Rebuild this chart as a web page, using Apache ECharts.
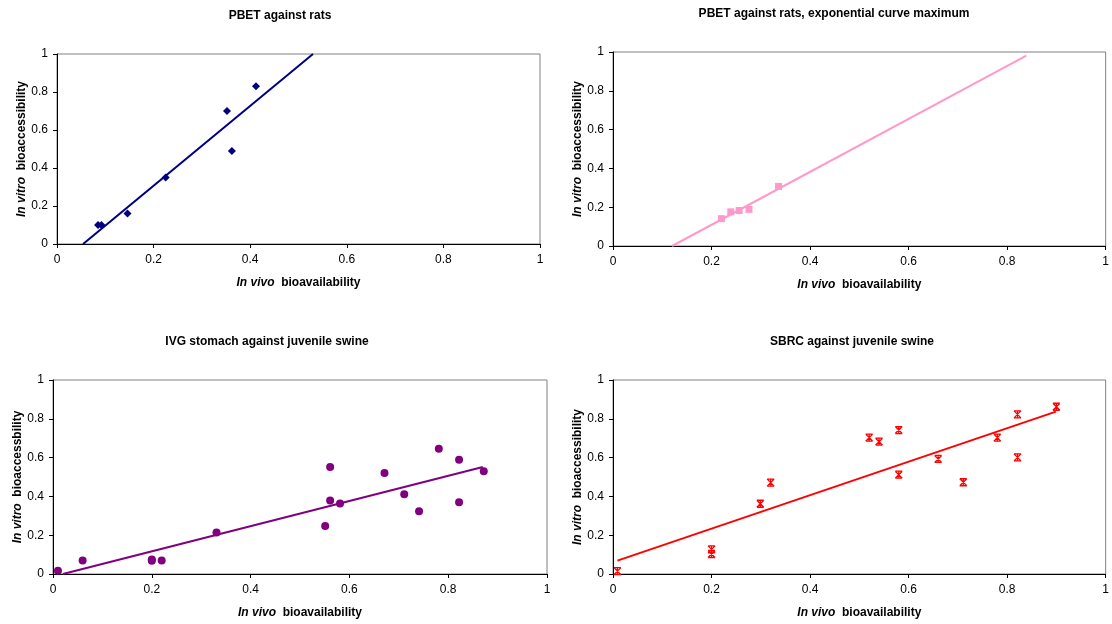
<!DOCTYPE html>
<html><head><meta charset="utf-8">
<script src="https://cdn.jsdelivr.net/npm/echarts@6/dist/echarts.min.js"></script>
<style>html,body{margin:0;padding:0;background:#fff}#c{width:1112px;height:624px}</style>
</head><body><div id="c"></div>
<script>
// Panel titles
const titles = ["PBET against rats", "PBET against rats, exponential curve maximum", "IVG stomach against juvenile swine", "SBRC against juvenile swine"];
const yNames = ["bioaccessibility", "bioaccessibility", "bioaccessbility", "bioaccessibility"];
const xTicks = [0, 0.2, 0.4, 0.6, 0.8, 1];

// Panel 1: PBET against rats
const pbetRats = [[0.085,0.10],[0.092,0.10],[0.146,0.16],[0.225,0.35],[0.352,0.70],[0.362,0.49],[0.412,0.83]];
const pbetRatsTrend = [[0.054,0],[0.53,1]];
// Panel 2: PBET against rats, exponential curve maximum
const pbetExp = [[0.220,0.141],[0.239,0.176],[0.256,0.183],[0.276,0.189],[0.336,0.307]];
const pbetExpTrend = [[0.12,0],[0.839,0.981]];
// Panel 3: IVG stomach against juvenile swine
const ivgSwine = [[0.010,0.017],[0.060,0.069],[0.200,0.075],[0.200,0.068],[0.220,0.069],[0.331,0.214],
  [0.551,0.248],[0.561,0.552],[0.561,0.379],[0.581,0.363],[0.671,0.520],[0.711,0.411],[0.741,0.324],
  [0.781,0.645],[0.822,0.589],[0.822,0.370],[0.872,0.530]];
const ivgSwineTrend = [[0.02,0],[0.87,0.552]];
// Panel 4: SBRC against juvenile swine
const sbrcSwine = [[0.009,0.015],[0.200,0.127],[0.200,0.103],[0.299,0.362],[0.320,0.471],[0.520,0.703],
  [0.540,0.682],[0.580,0.742],[0.580,0.512],[0.660,0.593],[0.711,0.473],[0.780,0.703],[0.821,0.823],
  [0.821,0.601],[0.900,0.862]];
const sbrcSwineTrend = [[0.009,0.069],[0.899,0.837]];

const FONT = 'Arial, "Liberation Sans", sans-serif';
const grids = [
  {left:57, right:572, top:54, bottom:380},
  {left:613, right:6, top:52, bottom:378},
  {left:53, right:565, top:380, bottom:50},
  {left:613, right:6, top:380, bottom:50}
];
const titlePos = [[280,16],[834,14],[267,342],[852,342]];

const series = [];
const colors = ['#000080','#FF99CC','#800080','#FF0000'];
const starPath = 'path://M0,0L10,0M0,10L10,10M0,0L10,10M10,0L0,10M5,0L5,10';
const pts = [pbetRats, pbetExp, ivgSwine, sbrcSwine];
const trends = [pbetRatsTrend, pbetExpTrend, ivgSwineTrend, sbrcSwineTrend];
const symbols = ['diamond','rect','circle',starPath];
const sizes = [8,7,8,7];

const rich = {i:{fontFamily:FONT,fontSize:12,fontWeight:'bold',fontStyle:'italic',color:'#000'},b:{fontFamily:FONT,fontSize:12,fontWeight:'bold',color:'#000'}};
const xAxes = [], yAxes = [];
for (let i = 0; i < 4; i++) {
  xAxes.push({
    gridIndex:i, type:'value', min:0, max:1, interval:0.2,
    name:'{i|In vivo}  {b|bioavailability}', nameLocation:'middle', nameGap:33,
    nameTextStyle:{rich:rich},
    axisLine:{show:true,onZero:false,lineStyle:{color:'#000',width:1}},
    axisTick:{show:true,inside:false,length:4,lineStyle:{color:'#000'}},
    axisLabel:{color:'#000',fontFamily:FONT,fontSize:12,margin:10},
    splitLine:{show:false}
  });
  yAxes.push({
    gridIndex:i, type:'value', min:0, max:1, interval:0.2,
    name:'{i|In vitro}  {b|' + yNames[i] + '}', nameLocation:'middle', nameGap:29, nameRotate:90,
    nameTextStyle:{rich:rich},
    axisLine:{show:true,onZero:false,lineStyle:{color:'#000',width:1}},
    axisTick:{show:true,inside:false,length:4,lineStyle:{color:'#000'}},
    axisLabel:{color:'#000',fontFamily:FONT,fontSize:12,margin:9},
    splitLine:{show:false}
  });
  const isStar = i === 3;
  series.push({
    type:'scatter', xAxisIndex:i, yAxisIndex:i, data:pts[i], symbol:symbols[i], symbolSize:sizes[i],
    itemStyle: isStar ? {color:'rgba(0,0,0,0)', borderColor:colors[i], borderWidth:1.3, opacity:1} : {color:colors[i], opacity:1},
    z:3
  });
  series.push({
    type:'line', xAxisIndex:i, yAxisIndex:i, data:trends[i], showSymbol:false, symbol:'none',
    lineStyle:{color:colors[i], width:2}, clip:true, z:2
  });
}

const chart = echarts.init(document.getElementById('c'), null, {renderer:'canvas'});
chart.setOption({
  animation:false,
  grid: grids.map(g => Object.assign({show:true, borderColor:'#808080', borderWidth:1, backgroundColor:'#fff'}, g)),
  xAxis: xAxes, yAxis: yAxes, series: series,
  graphic: titles.map((t,i) => ({type:'text', x:titlePos[i][0], y:titlePos[i][1],
    style:{text:t, fill:'#000', font:'bold 12px ' + FONT, textAlign:'center', textVerticalAlign:'middle'}}))
});
</script></body></html>
